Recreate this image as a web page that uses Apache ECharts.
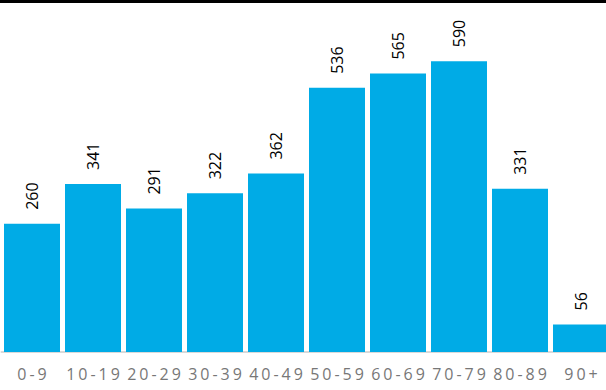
<!DOCTYPE html>
<html><head><meta charset="utf-8">
<script src="https://cdn.jsdelivr.net/npm/echarts@6/dist/echarts.min.js"></script>
<style>html,body{margin:0;padding:0;background:#fff}#c{width:606px;height:390px}</style>
</head><body><div id="c"></div>
<script>
var categories = ['0-9','10-19','20-29','30-39','40-49','50-59','60-69','70-79','80-89','90+'];
var values = [260, 341, 291, 322, 362, 536, 565, 590, 331, 56];

var chart = echarts.init(document.getElementById('c'), null, {renderer: 'svg'});
chart.setOption({
  animation: false,
  grid: {left: 1.5, top: 7, width: 610, bottom: 38, containLabel: false, outerBoundsMode: 'none'},
  graphic: [{type: 'rect', left: 0, top: 0, shape: {width: 606, height: 3}, style: {fill: '#000'}}],
  xAxis: {
    type: 'category', data: categories,
    axisLine: {lineStyle: {color: '#d9d9d9', width: 2}},
    axisTick: {show: false},
    axisLabel: {color: '#777', fontFamily: 'Open Sans', fontSize: 16, margin: 14, padding: [0, 0, 0, 3]}
  },
  yAxis: {type: 'value', min: 0, max: 700, show: false, splitLine: {show: false}},
  series: [{
    type: 'bar', data: values, barWidth: 56,
    itemStyle: {color: '#00ABE6'},
    label: {show: true, position: 'top', rotate: 90, align: 'left', verticalAlign: 'middle', distance: 14,
      color: '#000', fontFamily: 'Open Sans', fontSize: 16}
  }]
});
function spaceLabels(){
  var texts = document.querySelectorAll('#c text');
  texts.forEach(function(t){
    var s = (t.textContent || '').trim();
    if (categories.indexOf(s) >= 0) {
      t.setAttribute('letter-spacing', '3');
      t.style.letterSpacing = '3px';
    }
  });
}
spaceLabels();
chart.on('finished', spaceLabels);
setTimeout(spaceLabels, 0);
setTimeout(spaceLabels, 50);
</script>
</body></html>
